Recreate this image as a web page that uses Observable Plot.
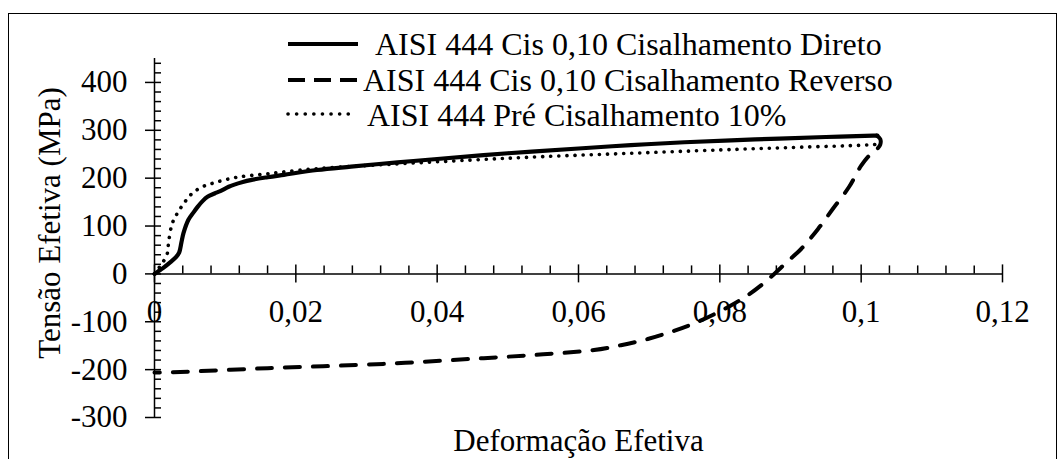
<!DOCTYPE html>
<html><head><meta charset="utf-8">
<script src="https://cdn.jsdelivr.net/npm/d3@7"></script>
<script src="https://cdn.jsdelivr.net/npm/@observablehq/plot@0.6"></script>
<style>
html,body{margin:0;padding:0;background:#fff;overflow:hidden;width:1064px;height:459px}
#wrap{position:relative;width:1064px;height:459px;overflow:hidden}
#frame{position:absolute;left:8px;top:13px;width:1049px;height:490px;border:1.5px solid #000;box-sizing:border-box}
#chart,#legend{position:absolute;left:0;top:0}
#chart text,#legend text{font-family:"Liberation Serif","Times New Roman",serif !important}
</style></head><body>
<div id="wrap"><div id="frame"></div><div id="chart"></div><svg id="legend" width="1064" height="459"></svg></div>
<script>
// ---- data ----
const seriesNames = [
  "AISI 444 Cis 0,10 Cisalhamento Direto",
  "AISI 444 Cis 0,10 Cisalhamento Reverso",
  "AISI 444 Pré Cisalhamento 10%"
];
const diretoX = [0,0.0005,0.0012,0.0023,0.0031,0.0035,0.0038,0.0041,0.0048,0.0055,0.0061,0.0068,0.0075,0.0085,0.0093,0.0105,0.0112,0.0125,0.0136,0.016,0.0183,0.023,0.0278,0.0344,0.04,0.05,0.06,0.0674,0.075,0.085,0.095,0.1017,0.1023];
const diretoY = [0,5,12,25,36,45,65,85,113,128,140,152,161,168,173,182,186,192,196,202,207,217,224,233,240,252,262,269,275,281,286,289,289];
const reversoX = [0.1022,0.1027,0.1027,0.1022,0.1012,0.1,0.0983,0.096,0.0939,0.0915,0.0895,0.0877,0.086,0.084,0.0812,0.0769,0.0735,0.0698,0.066,0.0622,0.055,0.0466,0.0324,0.016,0.0013,0];
const reversoY = [289,282,270,260,248,226,182,136,94,52,25,0,-22,-44,-69,-100,-119,-136,-149,-159,-168,-176,-188,-197,-206,-206];
const preX = [0,0.0005,0.001,0.0018,0.002,0.0025,0.0032,0.004,0.0051,0.0065,0.0086,0.0117,0.016,0.0207,0.026,0.0334,0.045,0.055,0.0674,0.08,0.09,0.1017,0.1022];
const preY = [0,10,20,42,67,105,126,144,165,180,191,202,209,217,223,229,238,245,252,259,264,270,271];

const xMajor = [0,0.02,0.04,0.06,0.08,0.1,0.12];
const xMajorLabels = ["0","0,02","0,04","0,06","0,08","0,1","0,12"];
const xMinor = d3.range(0, 0.12001, 0.004).filter(v => xMajor.every(m => Math.abs(m - v) > 1e-9));
const yMajor = [400,300,200,100,0,-100,-200,-300];
const yMajorLabels = ["400","300","200","100","0","-100","-200","-300"];
const yMinor = d3.range(-300, 441, 20).filter(v => v % 100 !== 0);
const xDomain = [0, 0.12];
const yDomain = [-300, 450];
const xTitle = "Deformação Efetiva";
const yTitle = "Tensão Efetiva (MPa)";

const toPts = (xs, ys) => xs.map((x, i) => ({x, y: ys[i]}));
const direto = toPts(diretoX, diretoY);
const reverso = toPts(reversoX, reversoY);
const pre = toPts(preX, preY);

const FONT = "'Liberation Serif', 'Times New Roman', serif";
const FS = 31;

const chart = Plot.plot({
  width: 1064,
  height: 459,
  marginLeft: 154,
  marginRight: 62,
  marginTop: 58,
  marginBottom: 42,
  x: {domain: xDomain, axis: null},
  y: {domain: yDomain, axis: null},
  style: {fontFamily: FONT, background: "transparent", overflow: "visible"},
  marks: [
    // axis lines
    Plot.ruleY([0], {x1: xDomain[0], x2: xDomain[1], stroke: "#000", strokeWidth: 1.5}),
    Plot.ruleX([0], {y1: yDomain[0], y2: yDomain[1], stroke: "#000", strokeWidth: 1.5}),
    // x ticks
    Plot.ruleX(xMajor, {x: d => d, y1: 0, y2: 0, insetTop: -9, insetBottom: -9, stroke: "#000", strokeWidth: 1.5}),
    Plot.ruleX(xMinor, {x: d => d, y1: 0, y2: 0, insetTop: -8, insetBottom: 0, stroke: "#000", strokeWidth: 1.5}),
    // y ticks
    Plot.ruleY(yMajor, {y: d => d, x1: 0, x2: 0, insetLeft: -9, insetRight: -7, stroke: "#000", strokeWidth: 1.5}),
    Plot.ruleY(yMinor, {y: d => d, x1: 0, x2: 0, insetLeft: 0, insetRight: -7, stroke: "#000", strokeWidth: 1.5}),
    // tick labels
    Plot.text(xMajor, {x: d => d, y: 0, text: (d, i) => xMajorLabels[i], dy: 38, fontSize: FS, fill: "#000"}),
    Plot.text(yMajor, {x: 0, y: d => d, text: (d, i) => yMajorLabels[i], textAnchor: "end", dx: -27, fontSize: FS, fill: "#000"}),
    // axis titles
    Plot.text([xTitle], {frameAnchor: "bottom", textAnchor: "middle", lineAnchor: "bottom", dy: 33, fontSize: FS, fill: "#000"}),
    Plot.text([yTitle], {frameAnchor: "left", textAnchor: "middle", lineAnchor: "middle", rotate: -90, dx: -104, dy: -15, fontSize: FS, fill: "#000"}),
    // series
    Plot.line(reverso, {x: "x", y: "y", stroke: "#000", strokeWidth: 4, strokeDasharray: "15,13", curve: "catmull-rom"}),
    Plot.line(pre, {x: "x", y: "y", stroke: "#000", strokeWidth: 3.6, strokeDasharray: "0.1,8", strokeLinecap: "round", curve: "catmull-rom"}),
    Plot.line(direto, {x: "x", y: "y", stroke: "#000", strokeWidth: 4.2, curve: "catmull-rom"})
  ]
});
document.getElementById("chart").appendChild(chart);

// ---- legend (overlay) ----
const legendStyles = [
  {dash: null, width: 4.2, cap: "butt"},
  {dash: "17,9", width: 4.2, cap: "butt"},
  {dash: "0.1,8.5", width: 3.6, cap: "round"}
];
const legendRows = [
  {lineY: 44, textY: 55, textX: 375, x2: 358},
  {lineY: 80, textY: 91, textX: 363, x2: 358},
  {lineY: 114, textY: 126, textX: 367, x2: 352}
];
const lg = d3.select("#legend");
seriesNames.forEach((name, i) => {
  const r = legendRows[i], s = legendStyles[i];
  const ln = lg.append("line").attr("x1", 288).attr("x2", r.x2).attr("y1", r.lineY).attr("y2", r.lineY)
    .attr("stroke", "#000").attr("stroke-width", s.width).attr("stroke-linecap", s.cap);
  if (s.dash) ln.attr("stroke-dasharray", s.dash);
  lg.append("text").attr("x", r.textX).attr("y", r.textY).attr("font-size", 32)
    .attr("fill", "#000").text(name);
});
</script>
</body></html>
